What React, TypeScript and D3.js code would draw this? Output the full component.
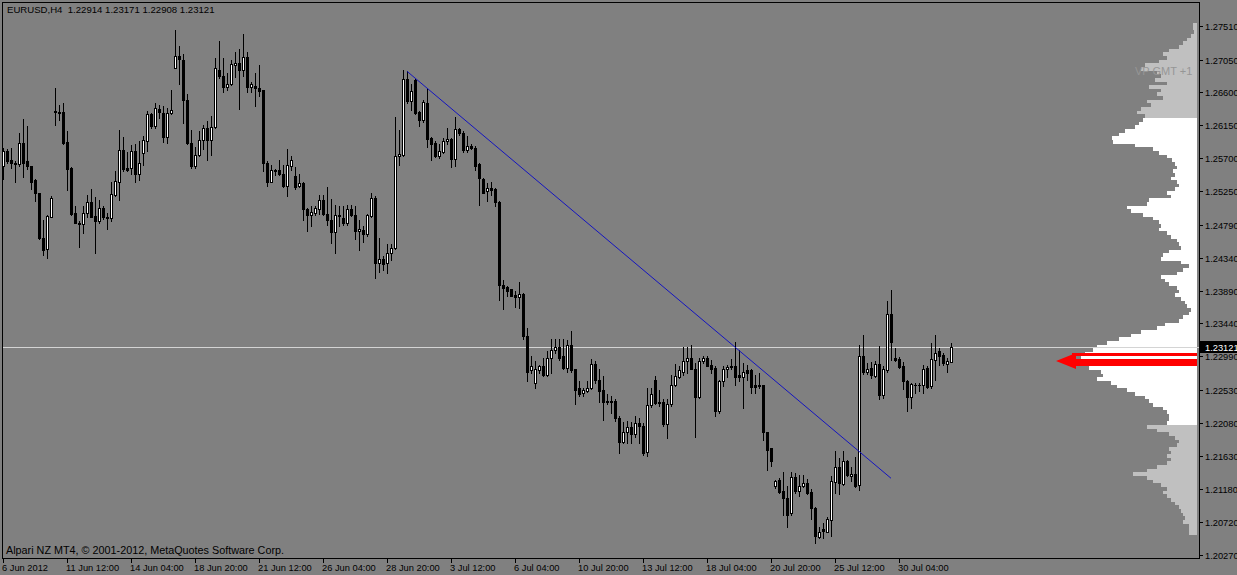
import React, { useEffect } from 'react';
import * as d3 from 'd3';

// EURUSD H4 candles, 6 Jun - 31 Jul 2012
const opens = [
  1.2560, 1.2580, 1.2568, 1.2564, 1.2562, 1.2591, 1.2566, 1.2560, 1.2540, 1.2522,
  1.2461, 1.2446, 1.2490, 1.2635, 1.2633, 1.2633, 1.2592, 1.2557, 1.2495, 1.2481,
  1.2480, 1.2495, 1.2510, 1.2491, 1.2484, 1.2502, 1.2490, 1.2488, 1.2520, 1.2538,
  1.2581, 1.2557, 1.2557, 1.2580, 1.2548, 1.2577, 1.2594, 1.2631, 1.2614, 1.2638,
  1.2632, 1.2599, 1.2632, 1.2694, 1.2710, 1.2705, 1.2650, 1.2591, 1.2560, 1.2574,
  1.2595, 1.2612, 1.2595, 1.2613, 1.2691, 1.2683, 1.2668, 1.2672, 1.2698, 1.2700,
  1.2691, 1.2708, 1.2668, 1.2669, 1.2666, 1.2663, 1.2564, 1.2538, 1.2554, 1.2554,
  1.2548, 1.2532, 1.2560, 1.2546, 1.2532, 1.2536, 1.2501, 1.2493, 1.2495, 1.2501,
  1.2513, 1.2494, 1.2486, 1.2469, 1.2493, 1.2488, 1.2481, 1.2501, 1.2493, 1.2470,
  1.2472, 1.2466, 1.2491, 1.2516, 1.2427, 1.2432, 1.2426, 1.2441, 1.2447, 1.2573,
  1.2575, 1.2678, 1.2649, 1.2677, 1.2633, 1.2623, 1.2646, 1.2598, 1.2591, 1.2573,
  1.2579, 1.2593, 1.2596, 1.2569, 1.2610, 1.2605, 1.2581, 1.2587, 1.2584, 1.2562,
  1.2542, 1.2525, 1.2529, 1.2528, 1.2510, 1.2397, 1.2394, 1.2391, 1.2383, 1.2380,
  1.2384, 1.2327, 1.2280, 1.2262, 1.2280, 1.2286, 1.2274, 1.2297, 1.2307, 1.2311,
  1.2300, 1.2283, 1.2315, 1.2281, 1.2256, 1.2249, 1.2251, 1.2256, 1.2289, 1.2267,
  1.2253, 1.2238, 1.2238, 1.2238, 1.2215, 1.2181, 1.2195, 1.2202, 1.2192, 1.2207,
  1.2204, 1.2168, 1.2232, 1.2267, 1.2237, 1.2236, 1.2206, 1.2233, 1.2260, 1.2271,
  1.2278, 1.2292, 1.2297, 1.2282, 1.2243, 1.2293, 1.2297, 1.2287, 1.2283, 1.2224,
  1.2265, 1.2281, 1.2284, 1.2286, 1.2274, 1.2271, 1.2280, 1.2280, 1.2259, 1.2259,
  1.2259, 1.2196, 1.2173, 1.2121, 1.2129, 1.2114, 1.2105, 1.2084, 1.2134, 1.2115,
  1.2122, 1.2126, 1.2113, 1.2091, 1.2052, 1.2062, 1.2059, 1.2075, 1.2127, 1.2147,
  1.2124, 1.2156, 1.2135, 1.2138, 1.2123, 1.2300, 1.2277, 1.2283, 1.2272, 1.2289,
  1.2246, 1.2280, 1.2357, 1.2297, 1.2295, 1.2286, 1.2265, 1.2243, 1.2260, 1.2260,
  1.2259, 1.2283, 1.2258, 1.2294, 1.2306, 1.2301, 1.2289, 1.22914,
];

const highs = [
  1.2584, 1.2583, 1.2584, 1.2566, 1.2605, 1.2624, 1.2614, 1.2560, 1.2541, 1.2523,
  1.2485, 1.2493, 1.2518, 1.2666, 1.2643, 1.2646, 1.2607, 1.2558, 1.2504, 1.2484,
  1.2504, 1.2520, 1.2528, 1.2517, 1.2513, 1.2504, 1.2495, 1.2538, 1.2552, 1.2609,
  1.2599, 1.2578, 1.2588, 1.2589, 1.2594, 1.2600, 1.2634, 1.2632, 1.2645, 1.2643,
  1.2641, 1.2639, 1.2664, 1.2746, 1.2723, 1.2713, 1.2658, 1.2608, 1.2586, 1.2607,
  1.2616, 1.2621, 1.2628, 1.2707, 1.2730, 1.2707, 1.2687, 1.2705, 1.2716, 1.2720,
  1.2740, 1.2716, 1.2675, 1.2687, 1.2698, 1.2664, 1.2566, 1.2561, 1.2555, 1.2568,
  1.2561, 1.2583, 1.2573, 1.2558, 1.2549, 1.2537, 1.2502, 1.2504, 1.2505, 1.2520,
  1.2520, 1.2530, 1.2514, 1.2506, 1.2504, 1.2504, 1.2506, 1.2506, 1.2504, 1.2486,
  1.2477, 1.2494, 1.2523, 1.2519, 1.2461, 1.2436, 1.2453, 1.2452, 1.2627, 1.2608,
  1.2691, 1.2689, 1.2671, 1.2678, 1.2634, 1.2650, 1.2666, 1.2599, 1.2593, 1.2589,
  1.2598, 1.2611, 1.2598, 1.2627, 1.2611, 1.2607, 1.2600, 1.2589, 1.2587, 1.2563,
  1.2543, 1.2536, 1.2538, 1.2529, 1.2511, 1.2404, 1.2395, 1.2391, 1.2388, 1.2401,
  1.2385, 1.2338, 1.2300, 1.2292, 1.2287, 1.2297, 1.2306, 1.2323, 1.2323, 1.2322,
  1.2322, 1.2321, 1.2333, 1.2282, 1.2265, 1.2256, 1.2265, 1.2295, 1.2293, 1.2281,
  1.2272, 1.2248, 1.2244, 1.2241, 1.2217, 1.2209, 1.2210, 1.2209, 1.2217, 1.2215,
  1.2208, 1.2256, 1.2256, 1.2272, 1.2253, 1.2240, 1.2240, 1.2274, 1.2289, 1.2285,
  1.2312, 1.2312, 1.2315, 1.2290, 1.2297, 1.2299, 1.2300, 1.2294, 1.2285, 1.2266,
  1.2285, 1.2287, 1.2295, 1.2319, 1.2308, 1.2290, 1.2287, 1.2281, 1.2274, 1.2276,
  1.2260, 1.2196, 1.2173, 1.2130, 1.2132, 1.2140, 1.2121, 1.2141, 1.2139, 1.2137,
  1.2137, 1.2131, 1.2117, 1.2093, 1.2066, 1.2071, 1.2079, 1.2135, 1.2169, 1.2160,
  1.2169, 1.2157, 1.2148, 1.2161, 1.2315, 1.2328, 1.2290, 1.2291, 1.2292, 1.2313,
  1.2285, 1.2375, 1.2390, 1.2310, 1.2298, 1.2291, 1.2267, 1.2263, 1.2262, 1.2262,
  1.2287, 1.2286, 1.2317, 1.2328, 1.2310, 1.2303, 1.2297, 1.23171,
];

const lows = [
  1.2541, 1.2564, 1.2556, 1.2538, 1.2560, 1.2544, 1.2555, 1.2528, 1.2512, 1.2460,
  1.2438, 1.2434, 1.2489, 1.2615, 1.2622, 1.2589, 1.2526, 1.2493, 1.2481, 1.2448,
  1.2468, 1.2489, 1.2489, 1.2440, 1.2481, 1.2487, 1.2473, 1.2484, 1.2519, 1.2513,
  1.2552, 1.2553, 1.2549, 1.2538, 1.2540, 1.2561, 1.2580, 1.2612, 1.2612, 1.2625,
  1.2592, 1.2591, 1.2630, 1.2693, 1.2672, 1.2618, 1.2589, 1.2556, 1.2556, 1.2573,
  1.2582, 1.2567, 1.2575, 1.2612, 1.2680, 1.2661, 1.2664, 1.2670, 1.2681, 1.2637,
  1.2683, 1.2661, 1.2660, 1.2641, 1.2655, 1.2552, 1.2532, 1.2537, 1.2547, 1.2547,
  1.2531, 1.2518, 1.2554, 1.2528, 1.2531, 1.2486, 1.2470, 1.2477, 1.2493, 1.2494,
  1.2492, 1.2479, 1.2454, 1.2440, 1.2477, 1.2478, 1.2479, 1.2491, 1.2459, 1.2444,
  1.2455, 1.2464, 1.2490, 1.2406, 1.2415, 1.2417, 1.2413, 1.2431, 1.2446, 1.2561,
  1.2573, 1.2646, 1.2636, 1.2630, 1.2614, 1.2620, 1.2586, 1.2567, 1.2572, 1.2570,
  1.2577, 1.2589, 1.2558, 1.2559, 1.2602, 1.2579, 1.2579, 1.2583, 1.2554, 1.2506,
  1.2522, 1.2511, 1.2520, 1.2504, 1.2376, 1.2364, 1.2381, 1.2381, 1.2367, 1.2365,
  1.2323, 1.2265, 1.2276, 1.2256, 1.2276, 1.2272, 1.2272, 1.2276, 1.2303, 1.2294,
  1.2281, 1.2278, 1.2278, 1.2234, 1.2244, 1.2245, 1.2250, 1.2254, 1.2263, 1.2237,
  1.2212, 1.2234, 1.2222, 1.2210, 1.2167, 1.2180, 1.2180, 1.2180, 1.2189, 1.2180,
  1.2164, 1.2162, 1.2230, 1.2234, 1.2231, 1.2204, 1.2187, 1.2231, 1.2258, 1.2269,
  1.2274, 1.2276, 1.2281, 1.2189, 1.2242, 1.2290, 1.2285, 1.2276, 1.2217, 1.2222,
  1.2258, 1.2271, 1.2281, 1.2260, 1.2265, 1.2228, 1.2267, 1.2249, 1.2249, 1.2256,
  1.2185, 1.2144, 1.2149, 1.2119, 1.2112, 1.2082, 1.2066, 1.2082, 1.2112, 1.2108,
  1.2120, 1.2111, 1.2076, 1.2044, 1.2050, 1.2050, 1.2058, 1.2053, 1.2112, 1.2111,
  1.2123, 1.2135, 1.2128, 1.2120, 1.2116, 1.2275, 1.2275, 1.2269, 1.2270, 1.2240,
  1.2242, 1.2278, 1.2294, 1.2292, 1.2283, 1.2254, 1.2224, 1.2228, 1.2249, 1.2251,
  1.2249, 1.2256, 1.2256, 1.2267, 1.2287, 1.2287, 1.2278, 1.22908,
];

const closes = [
  1.2580, 1.2566, 1.2563, 1.2562, 1.2591, 1.2563, 1.2559, 1.2538, 1.2522, 1.2461,
  1.2445, 1.2491, 1.2516, 1.2633, 1.2632, 1.2591, 1.2555, 1.2494, 1.2482, 1.2480,
  1.2495, 1.2510, 1.2490, 1.2484, 1.2502, 1.2489, 1.2488, 1.2521, 1.2539, 1.2581,
  1.2555, 1.2554, 1.2580, 1.2548, 1.2564, 1.2595, 1.2631, 1.2614, 1.2639, 1.2633,
  1.2599, 1.2632, 1.2636, 1.2710, 1.2706, 1.2650, 1.2591, 1.2560, 1.2574, 1.2595,
  1.2612, 1.2595, 1.2613, 1.2693, 1.2682, 1.2668, 1.2672, 1.2699, 1.2700, 1.2691,
  1.2708, 1.2668, 1.2671, 1.2666, 1.2662, 1.2564, 1.2538, 1.2554, 1.2552, 1.2549,
  1.2532, 1.2561, 1.2567, 1.2531, 1.2536, 1.2501, 1.2493, 1.2496, 1.2502, 1.2513,
  1.2494, 1.2485, 1.2469, 1.2492, 1.2491, 1.2481, 1.2501, 1.2493, 1.2470, 1.2473,
  1.2467, 1.2492, 1.2516, 1.2427, 1.2432, 1.2425, 1.2441, 1.2447, 1.2573, 1.2576,
  1.2678, 1.2649, 1.2662, 1.2632, 1.2623, 1.2647, 1.2596, 1.2589, 1.2573, 1.2580,
  1.2593, 1.2596, 1.2569, 1.2610, 1.2605, 1.2581, 1.2587, 1.2584, 1.2560, 1.2543,
  1.2523, 1.2529, 1.2527, 1.2510, 1.2396, 1.2393, 1.2389, 1.2382, 1.2380, 1.2384,
  1.2327, 1.2278, 1.2286, 1.2282, 1.2286, 1.2274, 1.2297, 1.2308, 1.2312, 1.2297,
  1.2283, 1.2314, 1.2280, 1.2253, 1.2248, 1.2253, 1.2256, 1.2289, 1.2266, 1.2252,
  1.2237, 1.2237, 1.2237, 1.2215, 1.2181, 1.2196, 1.2202, 1.2192, 1.2207, 1.2203,
  1.2167, 1.2232, 1.2248, 1.2235, 1.2235, 1.2206, 1.2233, 1.2260, 1.2272, 1.2280,
  1.2292, 1.2297, 1.2282, 1.2243, 1.2293, 1.2297, 1.2286, 1.2282, 1.2224, 1.2265,
  1.2282, 1.2284, 1.2286, 1.2271, 1.2270, 1.2278, 1.2276, 1.2257, 1.2257, 1.2258,
  1.2195, 1.2171, 1.2155, 1.2128, 1.2113, 1.2105, 1.2082, 1.2134, 1.2114, 1.2121,
  1.2126, 1.2112, 1.2091, 1.2053, 1.2059, 1.2060, 1.2076, 1.2128, 1.2147, 1.2126,
  1.2156, 1.2137, 1.2138, 1.2122, 1.2300, 1.2277, 1.2281, 1.2274, 1.2289, 1.2246,
  1.2281, 1.2357, 1.2319, 1.2294, 1.2284, 1.2265, 1.2243, 1.2261, 1.2259, 1.2259,
  1.2281, 1.2257, 1.2295, 1.2304, 1.2300, 1.2290, 1.2292, 1.23121,
];

// one label every 16 bars
const timeLabels = [
  '6 Jun 2012', '11 Jun 12:00', '14 Jun 04:00', '18 Jun 20:00', '21 Jun 12:00',
  '26 Jun 04:00', '28 Jun 20:00', '3 Jul 12:00', '6 Jul 04:00', '10 Jul 20:00',
  '13 Jul 12:00', '18 Jul 04:00', '20 Jul 20:00', '25 Jul 12:00', '30 Jul 04:00',
];
const labelEvery = 16;

const priceTicks = [
  1.2751, 1.2705, 1.266, 1.2615, 1.257, 1.2525, 1.2479, 1.2434, 1.2389,
  1.2344, 1.2299, 1.2253, 1.2208, 1.2163, 1.2118, 1.2072, 1.2027,
];

// volume profile, 5 pip bins from the top
const profileTop = 1.2755;
const profileStep = 0.0005;
const profileVolumes = [
  4, 4, 3, 6, 10, 14, 18, 28, 34, 30,
  38, 52, 56, 40, 36, 42, 30, 48, 36, 40,
  34, 50, 46, 56, 60, 52, 54, 58, 62, 72,
  78, 85, 84, 62, 44, 38, 30, 25, 22, 20,
  24, 22, 26, 20, 18, 22, 30, 26, 48, 50,
  70, 66, 54, 44, 38, 36, 38, 30, 26, 20,
  18, 16, 28, 34, 36, 16, 8, 14, 20, 36,
  32, 28, 20, 18, 22, 16, 12, 10, 6, 8,
  14, 18, 32, 40, 56, 66, 78, 90, 100, 104,
  112, 116, 120, 118, 108, 96, 94, 100, 86, 80,
  70, 62, 52, 48, 44, 34, 30, 28, 28, 30,
  50, 40, 28, 22, 18, 20, 28, 26, 30, 26,
  30, 40, 50, 64, 50, 44, 36, 30, 34, 30,
  26, 22, 18, 16, 14, 12, 14, 8, 8, 8,
];
const valueArea = [1.2205, 1.2625];
const pocBands = [[1.2303, 1.2299], [1.2295, 1.2286]];

// trend line anchors: bar index, price
const trendStart = [101, 1.2689];
const trendEnd = [222, 1.2132];

const lastPrice = 1.23121;

const FONT = 'Liberation Sans, Arial, sans-serif';

function App() {
  useEffect(() => {
    document.body.style.margin = '0';
    document.body.style.background = '#808080';
  }, []);

  const W = 1237;
  const H = 575;
  const n = closes.length;

  const x = d3.scaleLinear().domain([0, n - 1]).range([3, 951]);
  const y = d3.scaleLinear().domain([1.2027, 1.2751]).range([555, 26]);
  const px = (i: number) => Math.round(x(i));
  const py = (v: number) => Math.round(y(v));

  const vol = d3.scaleLinear().domain([0, d3.max(profileVolumes) as number]).range([0, 120]);

  const candles = d3.range(n).map((i) => {
    const c = px(i);
    const o = opens[i];
    const cl = closes[i];
    const bull = cl >= o;
    const top = py(Math.max(o, cl));
    const bot = py(Math.min(o, cl));
    const hi = py(highs[i]);
    const lo = py(lows[i]);
    return (
      <g key={i}>
        <rect x={c} y={hi} width={1} height={lo - hi + 1} fill="#000" />
        <rect x={c - 1} y={top} width={3} height={bot - top + 1} fill="#000" />
        {bull && bot - top > 1 && (
          <rect x={c} y={top + 1} width={1} height={bot - top - 1} fill="#fff" />
        )}
      </g>
    );
  });

  const profile = profileVolumes.map((v, i) => {
    const pTop = profileTop - i * profileStep;
    const mid = pTop - profileStep / 2;
    const y0 = py(pTop);
    const y1 = py(pTop - profileStep);
    const inVA = mid >= valueArea[0] && mid <= valueArea[1];
    const w = Math.round(vol(v));
    return (
      <rect key={i} x={1197 - w} y={y0} width={w} height={y1 - y0}
        fill={inVA ? '#ffffff' : '#c0c0c0'} />
    );
  });

  const lastY = py(lastPrice);

  return (
    <svg width={W} height={H} style={{ position: 'absolute', left: 0, top: 0, display: 'block' }}
      shapeRendering="crispEdges" fontFamily={FONT}>
      <rect x={0} y={0} width={W} height={H} fill="#808080" />

      {profile}
      {pocBands.map((b, i) => (
        <rect key={i} x={1072} y={py(b[0])} width={125} height={py(b[1]) - py(b[0])} fill="#ff0000" />
      ))}
      <polygon
        points={`1056,${py(1.2292)} 1076,${py(1.2303)} 1076,${py(1.2282)}`}
        fill="#ff0000" shapeRendering="auto" />
      <text x={1135} y={75} fontSize={11} fill="#969696">VP GMT +1</text>

      <rect x={2} y={lastY} width={1197} height={1} fill="#d4d4d4" />

      {candles}

      <line x1={x(trendStart[0])} y1={y(trendStart[1])} x2={x(trendEnd[0])} y2={y(trendEnd[1])}
        stroke="#1414c0" strokeWidth={1} shapeRendering="auto" />

      {/* frame */}
      <rect x={2} y={2} width={1198} height={1} fill="#000" />
      <rect x={2} y={2} width={1} height={557} fill="#000" />
      <rect x={1199} y={2} width={1} height={557} fill="#000" />
      <rect x={2} y={558} width={1198} height={1} fill="#000" />

      {/* price axis */}
      {priceTicks.map((p) => (
        <g key={p}>
          <rect x={1199} y={py(p)} width={4} height={1} fill="#000" />
          <text x={1205} y={py(p) + 3.5} fontSize={9.3} fill="#000">{p.toFixed(5)}</text>
        </g>
      ))}
      <rect x={1200} y={lastY - 6} width={37} height={12} fill="#000" />
      <text x={1205} y={lastY + 3.5} fontSize={9.3} fill="#fff">{lastPrice.toFixed(5)}</text>

      {/* time axis */}
      {timeLabels.map((t, k) => {
        const c = px(k * labelEvery);
        return (
          <g key={t}>
            <rect x={c} y={558} width={1} height={5} fill="#000" />
            <text x={c - 1} y={571} fontSize={9.3} fill="#000">{t}</text>
          </g>
        );
      })}

      <text x={7} y={13} fontSize={9.6} fill="#000" style={{ whiteSpace: 'pre' }}>
        {`EURUSD,H4  ${opens[n - 1].toFixed(5)} ${highs[n - 1].toFixed(5)} ${lows[n - 1].toFixed(5)} ${closes[n - 1].toFixed(5)}`}
      </text>
      <text x={6} y={554} fontSize={10.8} fill="#000">
        Alpari NZ MT4, © 2001-2012, MetaQuotes Software Corp.
      </text>
    </svg>
  );
}

export default App;
